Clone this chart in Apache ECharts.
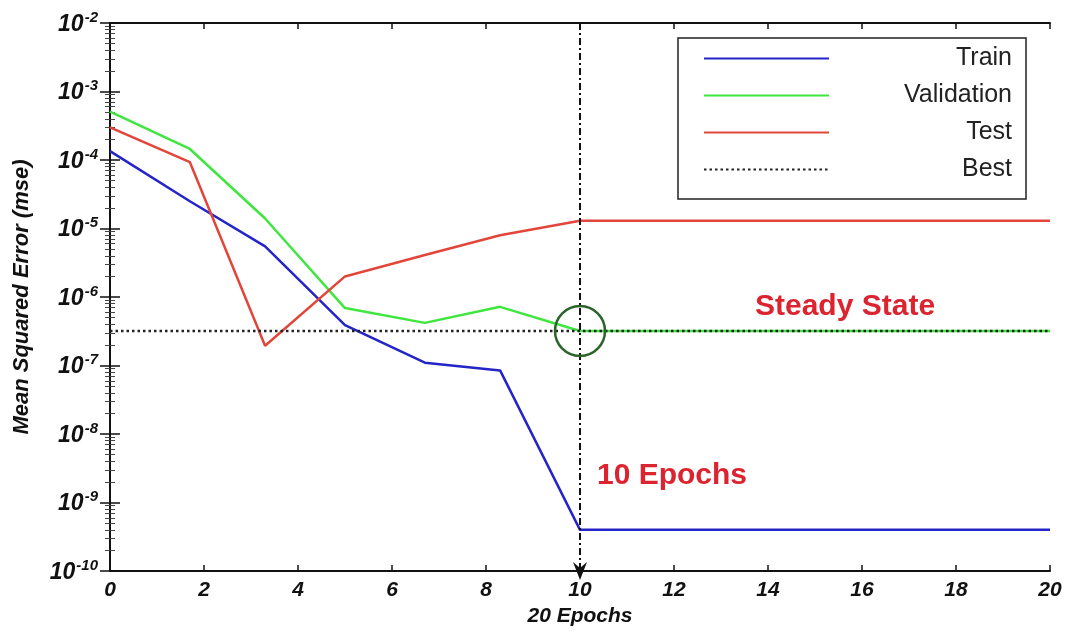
<!DOCTYPE html>
<html>
<head>
<meta charset="utf-8">
<script src="https://cdn.jsdelivr.net/npm/echarts@6/dist/echarts.min.js"></script>
<style>
    html, body { margin: 0; padding: 0; background: #fff; }
    #chart { width: 1070px; height: 632px; }
</style>
</head>
<body>
<div id="chart"></div>
<script>
    var epochs = [0, 1.7, 3.3, 5, 6.7, 8.3, 10, 20];
    var trainMse = [1.35e-4, 2.5e-5, 5.5e-6, 3.9e-7, 1.1e-7, 8.5e-8, 4e-10, 4e-10];
    var validationMse = [5.1e-4, 1.45e-4, 1.4e-5, 6.9e-7, 4.2e-7, 7.2e-7, 3.2e-7, 3.2e-7];
    var testMse = [3e-4, 9.3e-5, 1.95e-7, 2e-6, 4.1e-6, 8e-6, 1.3e-5, 1.3e-5];
    var bestEpoch = 10;
    var bestMse = 3.2e-7;

    var fontFam = '"Liberation Sans", Arial, sans-serif';

    function pairs(xs, ys) {
        var out = [];
        for (var i = 0; i < xs.length; i++) {
            out.push([xs[i], ys[i]]);
        }
        return out;
    }

    // 10^n labels for the log axis
    function powLabel(v) {
        var e = Math.round(Math.log10(v));
        return '{b|10}{s|' + e + '}';
    }

    var myChart = echarts.init(document.getElementById('chart'));

    var axisLineStyle = {color: '#111', width: 2};

    var option = {
        backgroundColor: '#fff',
        animation: false,
        grid: {left: 110, right: 20, top: 23, bottom: 58},
        legend: {
            data: ['Train', 'Validation', 'Test', 'Best'],
            orient: 'vertical',
            left: 678,
            top: 38,
            backgroundColor: '#fff',
            borderColor: '#222',
            borderWidth: 1.5,
            borderRadius: 0,
            padding: [8, 14, 17, 25],
            itemWidth: 125,
            itemHeight: 14,
            itemGap: 12,
            selectedMode: false,
            itemStyle: {opacity: 0},
            formatter: function (name) {
                return '{r|' + name + '}';
            },
            textStyle: {
                color: '#222',
                fontFamily: fontFam,
                fontSize: 25,
                rich: {
                    r: {width: 178, align: 'right', fontSize: 25, lineHeight: 28, color: '#222', fontFamily: fontFam}
                }
            }
        },
        xAxis: [
            {
                type: 'value',
                min: 0,
                max: 20,
                interval: 2,
                name: '20 Epochs',
                nameLocation: 'middle',
                nameGap: 27,
                nameTextStyle: {fontFamily: fontFam, fontSize: 21, fontWeight: 'bold', fontStyle: 'italic', color: '#111'},
                axisLine: {lineStyle: axisLineStyle},
                axisTick: {inside: true, length: 6, lineStyle: {color: '#111', width: 1.5}},
                splitLine: {show: false},
                axisLabel: {
                    margin: 9,
                    fontFamily: fontFam,
                    fontSize: 21,
                    fontWeight: 'bold',
                    fontStyle: 'italic',
                    color: '#111'
                }
            },
            {
                type: 'value',
                position: 'top',
                min: 0,
                max: 20,
                interval: 2,
                axisLine: {lineStyle: axisLineStyle},
                axisTick: {inside: true, length: 6, lineStyle: {color: '#111', width: 1.5}},
                axisLabel: {show: false},
                splitLine: {show: false}
            }
        ],
        yAxis: [
            {
                type: 'log',
                logBase: 10,
                min: 1e-10,
                max: 1e-2,
                interval: 1,
                name: 'Mean Squared Error (mse)',
                nameLocation: 'middle',
                nameGap: 77,
                nameTextStyle: {fontFamily: fontFam, fontSize: 22, fontWeight: 'bold', fontStyle: 'italic', color: '#111'},
                axisLine: {lineStyle: axisLineStyle},
                axisTick: {inside: true, length: 10, lineStyle: {color: '#111', width: 1.5}},
                minorTick: {show: true, splitNumber: 9, length: 5, lineStyle: {color: '#444', width: 1}},
                splitLine: {show: false},
                axisLabel: {
                    margin: 12,
                    formatter: powLabel,
                    rich: {
                        b: {fontFamily: fontFam, fontSize: 23, fontWeight: 'bold', fontStyle: 'italic', color: '#111', verticalAlign: 'bottom', lineHeight: 26},
                        s: {fontFamily: fontFam, fontSize: 15, fontWeight: 'bold', fontStyle: 'italic', color: '#111', verticalAlign: 'top', lineHeight: 26, padding: [0, 0, 0, 1]}
                    }
                }
            },
            {
                type: 'log',
                logBase: 10,
                min: 1e-10,
                max: 1e-2,
                interval: 1,
                position: 'right',
                axisLine: {lineStyle: axisLineStyle},
                axisTick: {inside: true, length: 10, lineStyle: {color: '#111', width: 1.5}},
                minorTick: {show: true, splitNumber: 9, length: 5, lineStyle: {color: '#444', width: 1}},
                axisLabel: {show: false},
                splitLine: {show: false}
            }
        ],
        series: [
            {
                name: 'Train',
                type: 'line',
                symbol: 'none',
                data: pairs(epochs, trainMse),
                lineStyle: {color: '#2424c8', width: 2.5},
                itemStyle: {color: '#2424c8'},
                z: 3
            },
            {
                name: 'Validation',
                type: 'line',
                symbol: 'none',
                data: pairs(epochs, validationMse),
                lineStyle: {color: '#3ee63e', width: 2.5},
                itemStyle: {color: '#3ee63e'},
                z: 3
            },
            {
                name: 'Test',
                type: 'line',
                symbol: 'none',
                data: pairs(epochs, testMse),
                lineStyle: {color: '#e2463a', width: 2.5},
                itemStyle: {color: '#e2463a'},
                z: 3
            },
            {
                name: 'Best',
                type: 'line',
                symbol: 'none',
                data: [[0, bestMse], [20, bestMse]],
                lineStyle: {color: '#222', width: 2.5, type: [2.5, 3]},
                itemStyle: {color: '#222'},
                z: 4,
                markLine: {
                    silent: true,
                    symbol: ['none', 'path://M6,0 L12,15 L6,10 L0,15 Z'],
                    symbolSize: [14, 18],
                    label: {show: false},
                    lineStyle: {color: '#111', width: 2, type: [7, 3, 2, 3]},
                    data: [[{coord: [bestEpoch, 1e-2]}, {coord: [bestEpoch, 1e-10]}]]
                },
                markPoint: {
                    silent: true,
                    symbol: 'circle',
                    symbolSize: 50,
                    label: {show: false},
                    itemStyle: {color: 'rgba(0,0,0,0)', borderColor: '#2a642a', borderWidth: 2.5},
                    data: [{coord: [bestEpoch, bestMse]}]
                }
            }
        ],
        graphic: [
            {
                type: 'text',
                left: 755,
                top: 292,
                style: {text: 'Steady State', fill: '#dc2430', fontFamily: fontFam, fontSize: 30, fontWeight: 'bold'}
            },
            {
                type: 'text',
                left: 597,
                top: 461,
                style: {text: '10 Epochs', fill: '#dc2430', fontFamily: fontFam, fontSize: 30, fontWeight: 'bold'}
            }
        ]
    };

    myChart.setOption(option);
</script>
</body>
</html>
